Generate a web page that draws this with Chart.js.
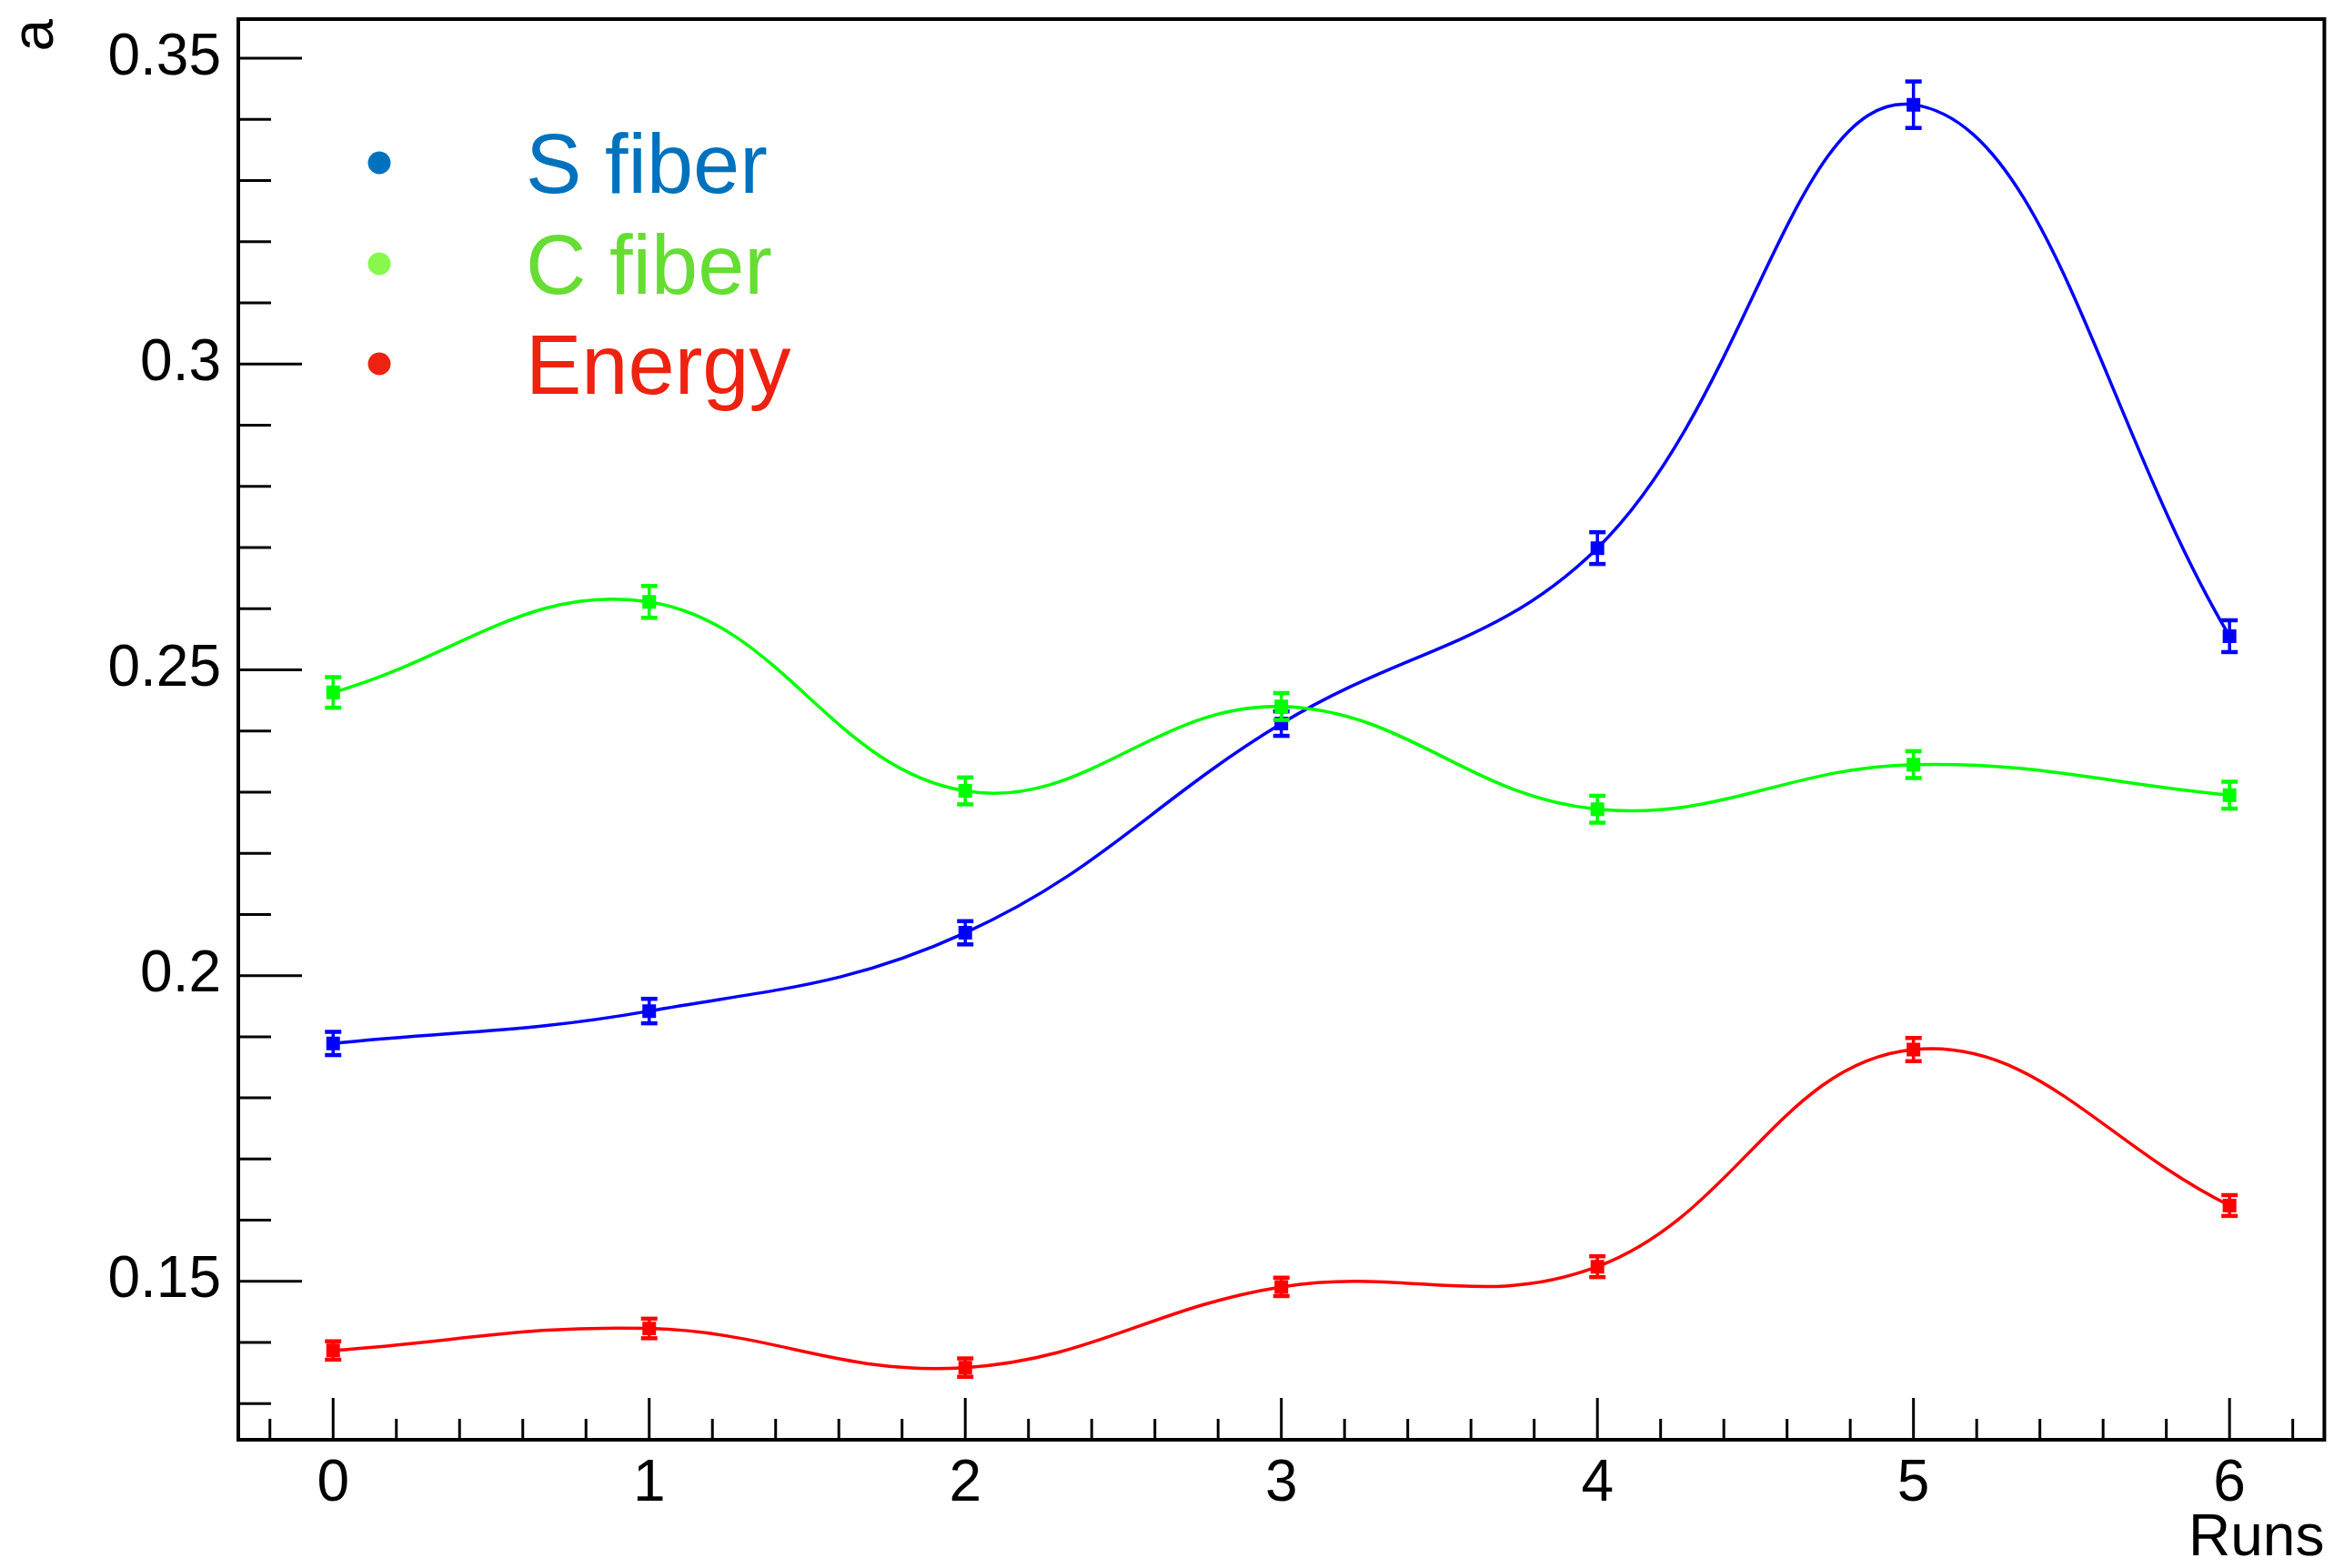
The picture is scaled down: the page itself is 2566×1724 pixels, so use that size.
<!DOCTYPE html>
<html>
<head>
<meta charset="utf-8">
<title>a vs Runs</title>
<script src="https://cdn.jsdelivr.net/npm/chart.js"></script>
<style>
  html, body { margin: 0; padding: 0; background: #fff; }
  #marco { width: 2566px; height: 1724px; }
</style>
</head>
<body>
<div id="marco"><canvas id="grafica"></canvas></div>
<script>
// values
const runs = [0, 1, 2, 3, 4, 5, 6];
const sFiber = [0.1889, 0.1942, 0.2070, 0.2412, 0.2699, 0.3424, 0.2555];
const sFiberErr = [0.0019, 0.0020, 0.0019, 0.0020, 0.0026, 0.0038, 0.0026];
const cFiber = [0.2463, 0.2611, 0.2302, 0.2440, 0.2272, 0.2345, 0.2295];
const cFiberErr = [0.0025, 0.0026, 0.0022, 0.0022, 0.0022, 0.0022, 0.0022];
const energy = [0.1387, 0.1423, 0.1359, 0.1491, 0.1524, 0.1879, 0.1624];
const energyErr = [0.0015, 0.0016, 0.0015, 0.0015, 0.0017, 0.0019, 0.0017];

const xTicks = [0, 1, 2, 3, 4, 5, 6];
const xTickLabels = ["0", "1", "2", "3", "4", "5", "6"];
const yTicks = [0.15, 0.2, 0.25, 0.3, 0.35];
const yTickLabels = ["0.15", "0.2", "0.25", "0.3", "0.35"];

const seriesNames = ["S fiber", "C fiber", "Energy"];
const lineColors = ["#0000ff", "#00ff00", "#ff0000"];
const legendDotColors = ["#0072bd", "#88f84c", "#ee2211"];
const legendTextColors = ["#0072bd", "#66dd33", "#ee2211"];

const fontFamily = "'Liberation Sans', Arial, Helvetica, sans-serif";
Chart.defaults.font.family = fontFamily;
Chart.defaults.color = "#000";

function puntos(valores) {
    return runs.map((r, i) => ({ x: r, y: valores[i] }));
}

const errores = [sFiberErr, cFiberErr, energyErr];

function linea(ctx, x1, y1, x2, y2) {
    ctx.beginPath();
    ctx.moveTo(x1, y1);
    ctx.lineTo(x2, y2);
    ctx.stroke();
}

// ROOT-like frame, inner ticks, error bars and legend
const estiloRoot = {
    id: "estiloRoot",
    afterDatasetDraw(chart, args) {
        const ctx = chart.ctx;
        const xs = chart.scales.x;
        const ys = chart.scales.y;
        const ds = chart.data.datasets[args.index];
        const err = errores[args.index];
        ctx.save();
        ctx.strokeStyle = lineColors[args.index];
        ds.data.forEach((p, i) => {
            const px = xs.getPixelForValue(p.x);
            const top = ys.getPixelForValue(p.y + err[i]);
            const bot = ys.getPixelForValue(p.y - err[i]);
            ctx.lineWidth = 3.5;
            linea(ctx, px, top, px, bot);
            ctx.lineWidth = 4.5;
            linea(ctx, px - 9, top, px + 9, top);
            linea(ctx, px - 9, bot, px + 9, bot);
        });
        ctx.restore();
    },
    afterDraw(chart) {
        const ctx = chart.ctx;
        const area = chart.chartArea;
        const xs = chart.scales.x;
        const ys = chart.scales.y;
        ctx.save();
        ctx.strokeStyle = "#000";
        ctx.lineWidth = 3;
        for (let i = -1; i <= 31; i++) {
            const v = i * 0.2;
            if (v < xs.min || v > xs.max) continue;
            const px = xs.getPixelForValue(v);
            const len = i % 5 === 0 ? 46 : 23;
            linea(ctx, px, area.bottom, px, area.bottom - len);
        }
        for (let i = 12; i <= 36; i++) {
            const v = i / 100;
            if (v < ys.min || v > ys.max) continue;
            const py = ys.getPixelForValue(v);
            const len = i % 5 === 0 ? 70 : 36;
            linea(ctx, area.left, py, area.left + len, py);
        }
        ctx.lineWidth = 4;
        ctx.strokeRect(area.left, area.top, area.right - area.left, area.bottom - area.top);

        // legend
        ctx.font = "92px " + fontFamily;
        ctx.textAlign = "left";
        ctx.textBaseline = "alphabetic";
        const filas = [179, 290, 400];
        seriesNames.forEach((nombre, i) => {
            ctx.fillStyle = legendDotColors[i];
            ctx.beginPath();
            ctx.arc(417, filas[i], 12.5, 0, Math.PI * 2);
            ctx.fill();
            ctx.fillStyle = legendTextColors[i];
            ctx.fillText(nombre, 578, filas[i] + 33);
        });
        ctx.restore();
    }
};

function prepararConfiguracion() {
    const datasets = [sFiber, cFiber, energy].map((serie, i) => ({
        label: seriesNames[i],
        data: puntos(serie),
        borderColor: lineColors[i],
        backgroundColor: lineColors[i],
        borderWidth: 3.5,
        tension: 0.4,
        pointStyle: "rect",
        pointRadius: 10.6,
        pointBorderWidth: 0,
        pointBackgroundColor: lineColors[i],
        fill: false,
        order: 3 - i
    }));

    return {
        type: "line",
        data: { datasets: datasets },
        options: {
            responsive: true,
            maintainAspectRatio: false,
            animation: false,
            devicePixelRatio: 1,
            layout: { padding: { top: 21, right: 8, left: 0, bottom: 0 } },
            plugins: {
                legend: { display: false },
                tooltip: { enabled: false }
            },
            scales: {
                x: {
                    type: "linear",
                    min: -0.3,
                    max: 6.3,
                    grid: { display: false },
                    border: { display: false },
                    afterBuildTicks: (scale) => { scale.ticks = xTicks.map(v => ({ value: v })); },
                    afterFit: (scale) => {
                        scale.height = 141;
                        scale.paddingLeft = 0;
                        scale.paddingRight = 0;
                    },
                    ticks: {
                        font: { size: 64 },
                        padding: 3,
                        autoSkip: false,
                        maxRotation: 0,
                        callback: (value, index) => xTickLabels[index]
                    },
                    title: {
                        display: true,
                        text: "Runs",
                        align: "end",
                        font: { size: 64, lineHeight: 1 },
                        padding: { top: 0, bottom: 0 }
                    }
                },
                y: {
                    type: "linear",
                    min: 0.1241,
                    max: 0.3564,
                    grid: { display: false },
                    border: { display: false },
                    afterBuildTicks: (scale) => { scale.ticks = yTicks.map(v => ({ value: v })); },
                    afterFit: (scale) => {
                        scale.width = 262;
                        scale.paddingTop = 0;
                        scale.paddingBottom = 0;
                    },
                    ticks: {
                        font: { size: 64 },
                        padding: 11,
                        autoSkip: false,
                        callback: (value, index) => yTickLabels[index]
                    },
                    title: {
                        display: true,
                        text: "a",
                        align: "end",
                        font: { size: 64, lineHeight: 1 },
                        padding: { top: 8, bottom: 0 }
                    }
                }
            }
        },
        plugins: [estiloRoot]
    };
}

function renderGrafica() {
    const config = prepararConfiguracion();
    const chartDOM = document.getElementById("grafica");
    new Chart(chartDOM, config);
}

renderGrafica();
</script>
</body>
</html>
